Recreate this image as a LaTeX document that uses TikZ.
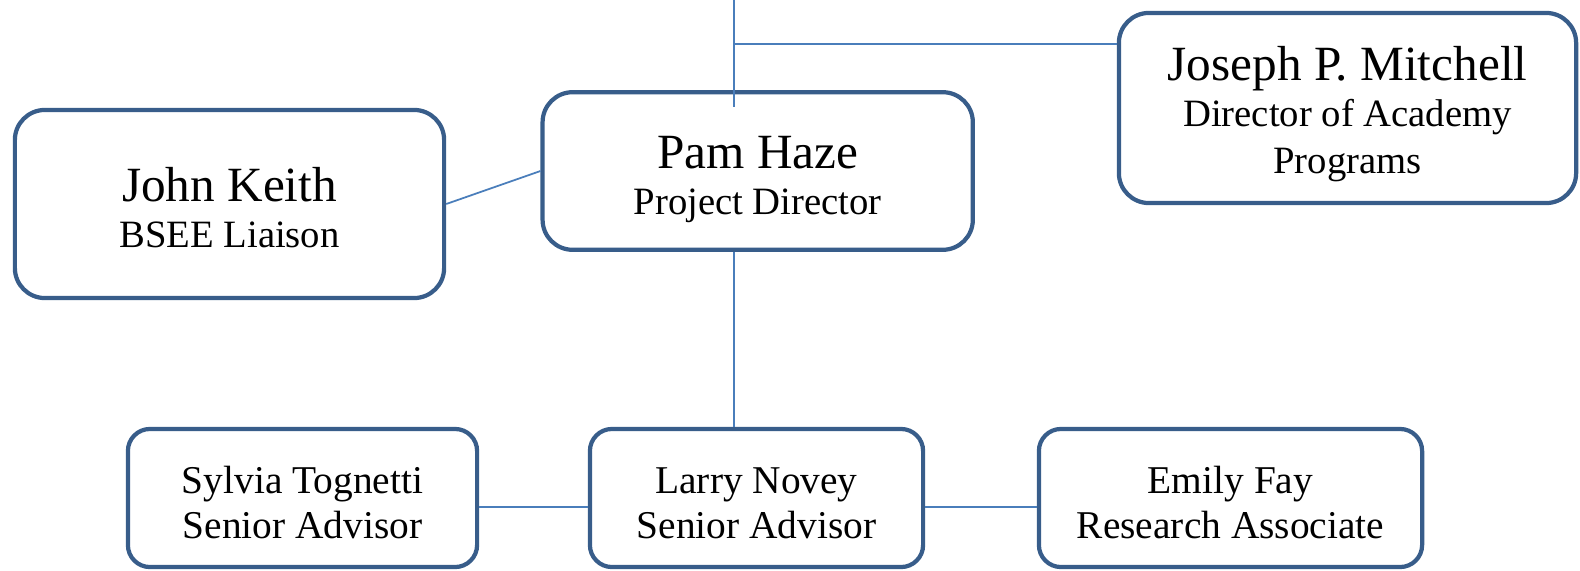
\documentclass[tikz,border=0pt]{standalone}
\usepackage{fontspec}
\setmainfont{Liberation Serif}
\usetikzlibrary{calc}
\definecolor{boxblue}{HTML}{385D8A}
\definecolor{lineblue}{HTML}{4A7EBB}
\tikzstyle{person} = [draw=boxblue, line width=1.2pt, fill=white, align=center, inner sep=0pt]
\tikzstyle{head} = [person, rounded corners=0.3cm, font=\fontsize{11}{13.2}\selectfont, text height=27.8pt, text depth=3pt]
\tikzstyle{staff} = [person, rounded corners=0.22cm, font=\fontsize{11.2}{12.8}\selectfont, text height=25.8pt, text depth=3pt]
\tikzstyle{link} = [lineblue, line width=0.5pt]
\newcommand{\headname}[1]{{\fontsize{14}{13.2}\selectfont #1}}

\begin{document}
\begin{tikzpicture}[x=0.01cm,y=-0.01cm] %pixel grid, y down
\useasboundingbox (0,0) rectangle (1580,570);
\node (john) at (229.5,204) [head, minimum width=4.29cm, minimum height=1.88cm] {\headname{John Keith}\\BSEE Liaison};
\node (pam) at (757.7,171) [head, minimum width=4.3cm, minimum height=1.575cm] {\headname{Pam Haze}\\Project Director};
\node (joseph) at (1347.5,108) [head, minimum width=4.57cm, minimum height=1.9cm, text height=40pt] {\headname{Joseph P. Mitchell}\\Director of Academy\\Programs};
\node (sylvia) at (302.5,498) [staff, minimum width=3.49cm, minimum height=1.38cm] {Sylvia Tognetti\\Senior Advisor};
\node (larry) at (756.5,498) [staff, minimum width=3.33cm, minimum height=1.38cm] {Larry Novey\\Senior Advisor};
\node (emily) at (1230.5,498) [staff, minimum width=3.83cm, minimum height=1.38cm] {Emily Fay\\Research Associate};
\coordinate (spine) at (734,0);
\coordinate (dip) at (734,107);
\coordinate (fork) at (734,44);
\draw [link] (spine)--(dip);
\draw [link] (fork)--(fork -| joseph.west);
\draw [link] (john.east)--(pam.west);
\draw [link] (spine |- pam.south)--(spine |- larry.north);
\draw [link] ($(sylvia.east)+(0,9)$)--($(larry.west)+(0,9)$);
\draw [link] ($(larry.east)+(0,9)$)--($(emily.west)+(0,9)$);
\end{tikzpicture}
\end{document}
